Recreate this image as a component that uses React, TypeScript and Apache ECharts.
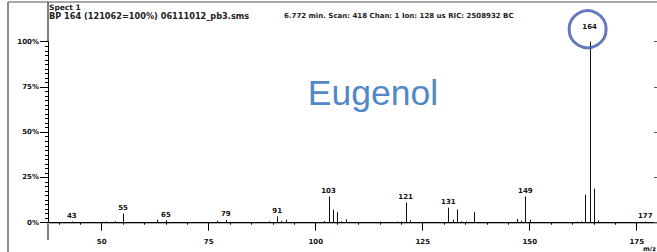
import React, { useEffect, useRef } from "react";
import * as echarts from "echarts";

// m/z values and relative intensities (%)
const mzValues = [43, 50, 51, 53, 55, 63, 65, 77, 79, 89, 91, 92, 93, 102, 103, 104, 105, 106, 107, 115, 119, 120, 121, 122, 131, 132, 133, 134, 135, 137, 147, 148, 149, 150, 161, 162, 163, 164, 165, 166, 177];
const intensities = [0.6, 0.5, 0.6, 0.8, 5.1, 1.7, 1.4, 1.1, 1.5, 0.7, 3.5, 1.0, 1.7, 0.9, 14.5, 7.2, 5.8, 0.8, 1.8, 0.6, 0.6, 0.7, 11.2, 1.3, 8.3, 1.7, 7.3, 0.8, 0.7, 5.8, 2.1, 1.1, 14.5, 1.6, 0.6, 0.7, 15.5, 100, 18.8, 1.2, 0.7];
const labeledPeaks = [43, 55, 65, 79, 91, 103, 121, 131, 149, 164, 177];
const basePeak = [164, 100];

const xMajorTicks = [50, 75, 100, 125, 150, 175];
const xMinorTicks = [40, 45, 50, 55, 60, 65, 70, 75, 80, 85, 90, 95, 100, 105, 110, 115, 120, 125, 130, 135, 140, 145, 150, 155, 160, 165, 170, 175];
const yTickLabels = ["0%", "25%", "50%", "75%", "100%"];

const headerLine1 = "Spect 1";
const headerLine2 = "BP 164 (121062=100%) 06111012_pb3.sms";
const headerLine3 = "6.772 min. Scan: 418 Chan: 1 Ion: 128 us RIC: 2508932 BC";
const compoundName = "Eugenol";
const xAxisTitle = "m/z";

const SMALL_FONT = '"DejaVu Sans", sans-serif';
const X_MIN = 37.45;
const X_MAX = 180;

export default function App() {
  const ref = useRef<HTMLDivElement>(null);

  useEffect(() => {
    if (!ref.current) return;
    const chart = echarts.init(ref.current, null, { renderer: "svg" });

    const peakData = mzValues.map((m, i) => [m, intensities[i], labeledPeaks.includes(m) ? 1 : 0]);

    const renderPeak = (params: any, api: any) => {
      const m = api.value(0);
      const v = api.value(1);
      const labeled = api.value(2) === 1;
      const top = api.coord([m, v]);
      const base = api.coord([m, 0]);
      const x = Math.round(top[0]) + 0.5;
      const children: any[] = [
        {
          type: "line",
          shape: { x1: x, y1: top[1], x2: x, y2: base[1] },
          style: { stroke: "#111", lineWidth: 1 },
        },
      ];
      if (labeled) {
        const extra = m === basePeak[0] ? 9 : 0;
        children.push({
          type: "text",
          x: top[0],
          y: top[1] - 2 - extra,
          style: {
            text: String(m),
            font: `bold 7px ${SMALL_FONT}`,
            fill: "#111",
            align: "center",
            verticalAlign: "bottom",
          },
        });
      }
      return { type: "group", children };
    };

    const option: any = {
      animation: false,
      grid: { left: 48, width: 610.1, top: 41.7, height: 181, containLabel: false, outerBoundsMode: "none" },
      xAxis: [
        {
          type: "value",
          min: X_MIN,
          max: X_MAX,
          position: "bottom",
          offset: 9,
          axisLine: { show: true, lineStyle: { color: "#b0b0b0", width: 2 } },
          axisTick: { show: true, length: 8, customValues: xMajorTicks, lineStyle: { color: "#000", width: 1 } },
          axisLabel: {
            show: true,
            customValues: xMajorTicks,
            margin: 7,
            fontSize: 7,
            fontWeight: "bold",
            fontFamily: SMALL_FONT,
            color: "#111",
          },
          splitLine: { show: false },
        },
        {
          type: "value",
          min: X_MIN,
          max: X_MAX,
          position: "bottom",
          offset: 9,
          axisLine: { show: false },
          axisTick: { show: true, length: 2, customValues: xMinorTicks, lineStyle: { color: "#000", width: 1 } },
          axisLabel: { show: false },
          splitLine: { show: false },
        },
        {
          type: "value",
          min: X_MIN,
          max: X_MAX,
          position: "bottom",
          offset: 0,
          axisLine: { show: true, lineStyle: { color: "#000", width: 1 } },
          axisTick: { show: false },
          axisLabel: { show: false },
          splitLine: { show: false },
        },
      ],
      yAxis: [
        {
          type: "value",
          min: 0,
          max: 100,
          interval: 25,
          position: "left",
          axisLine: { show: true, lineStyle: { color: "#000", width: 1 } },
          axisTick: { show: true, length: 8, lineStyle: { color: "#000" } },
          minorTick: { show: true, splitNumber: 10, length: 3, lineStyle: { color: "#000" } },
          axisLabel: {
            margin: 9,
            fontSize: 7,
            fontWeight: "bold",
            fontFamily: SMALL_FONT,
            color: "#111",
            formatter: (v: number) => yTickLabels[Math.round(v / 25)] ?? "",
          },
          splitLine: { show: false },
        },
        {
          type: "value",
          min: 0,
          max: 100,
          interval: 25,
          position: "right",
          axisLine: { show: false },
          axisTick: { show: true, inside: true, length: 4, lineStyle: { color: "#555" } },
          axisLabel: { show: false },
          splitLine: { show: false },
        },
      ],
      series: [
        {
          type: "custom",
          xAxisIndex: 0,
          yAxisIndex: 0,
          clip: false,
          encode: { x: 0, y: 1 },
          renderItem: renderPeak,
          data: peakData,
        },
        {
          type: "scatter",
          xAxisIndex: 0,
          yAxisIndex: 0,
          clip: false,
          symbol: "circle",
          symbolSize: 37,
          symbolOffset: [-2, -12.4],
          itemStyle: { color: "rgba(0,0,0,0)", borderColor: "#3b59a8", borderWidth: 3 },
          data: [basePeak],
          z: 5,
        },
      ],
      graphic: [
        { type: "line", shape: { x1: 8, y1: 2, x2: 8, y2: 252 }, style: { stroke: "#8c8c8c", lineWidth: 2 } },
        { type: "line", shape: { x1: 8, y1: 2, x2: 657, y2: 2 }, style: { stroke: "#8c8c8c", lineWidth: 1.5 } },
        { type: "line", shape: { x1: 48, y1: 2, x2: 48, y2: 42 }, style: { stroke: "#000", lineWidth: 1 } },
        { type: "line", shape: { x1: 48, y1: 222, x2: 48, y2: 240 }, style: { stroke: "#000", lineWidth: 1 } },
        {
          type: "text",
          x: 49,
          y: 3,
          style: { text: headerLine1, font: `bold 7.5px ${SMALL_FONT}`, fill: "#222" },
        },
        {
          type: "text",
          x: 49,
          y: 12,
          style: { text: headerLine2, font: `bold 8.2px ${SMALL_FONT}`, fill: "#222" },
        },
        {
          type: "text",
          x: 284,
          y: 12,
          style: { text: headerLine3, font: `bold 7px ${SMALL_FONT}`, fill: "#222" },
        },
        {
          type: "text",
          x: 656,
          y: 245,
          style: {
            text: xAxisTitle,
            font: `bold 6.5px ${SMALL_FONT}`,
            fill: "#111",
            textAlign: "right",
            textVerticalAlign: "top",
          },
        },
        {
          type: "text",
          x: 373,
          y: 93,
          style: {
            text: compoundName,
            font: '35.5px "Liberation Sans", Arial, sans-serif',
            fill: "#5188c8",
            textAlign: "center",
            textVerticalAlign: "middle",
          },
        },
      ],
    };

    chart.setOption(option);
    return () => chart.dispose();
  }, []);

  return (
    <div
      ref={ref}
      style={{ position: "fixed", left: 0, top: 0, width: 657, height: 252, background: "#fff" }}
    />
  );
}
